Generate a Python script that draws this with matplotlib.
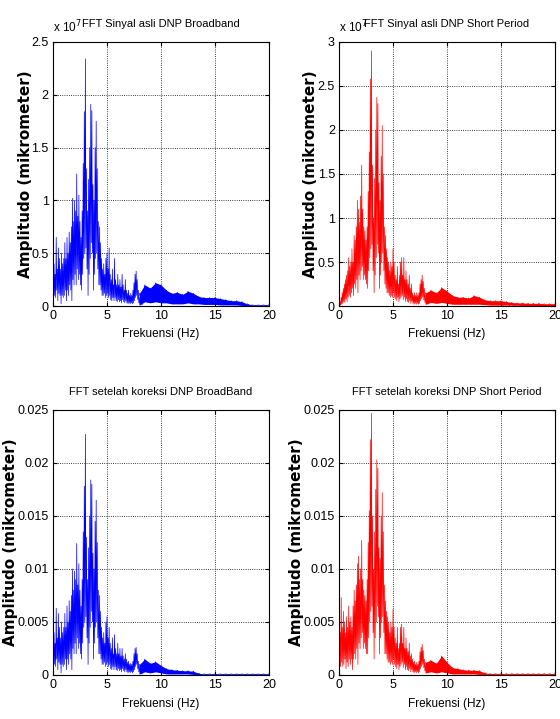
import matplotlib
matplotlib.use("Agg")
import matplotlib.pyplot as plt
import numpy as np

plt.rcParams['font.family'] = ['Liberation Sans', 'DejaVu Sans']

# frequency grids (Hz)
freq_lo = np.round(np.arange(0, 8.01, 0.1), 2)      # dense part 0-8 Hz
freq_tail = np.arange(8.0, 20.01, 0.5)              # tail 8-20 Hz

# ---- FFT Sinyal asli DNP Broadband (x 1e7)
bb_raw_hi = [0.25, 0.4, 0.3, 0.65, 0.35, 0.55, 0.45, 0.35, 0.5, 0.4,
             0.45, 0.6, 0.45, 0.65, 0.5, 0.7, 0.6, 0.75, 1.02, 0.8,
             1.0, 0.9, 1.25, 0.85, 1.05, 0.8, 0.65, 0.9, 1.35, 1.84,
             2.34, 1.3, 0.9, 1.2, 1.5, 1.91, 1.85, 1.15, 1.0, 1.5,
             1.75, 1.3, 0.8, 0.75, 0.6, 0.45, 0.35, 0.4, 0.3, 0.45,
             0.5, 0.35, 0.55, 0.3, 0.25, 0.35, 0.2, 0.45, 0.25, 0.2,
             0.3, 0.2, 0.25, 0.18, 0.3, 0.2, 0.15, 0.25, 0.15, 0.12,
             0.15, 0.1, 0.12, 0.1, 0.15, 0.22, 0.3, 0.33, 0.25, 0.15,
             0.08]
bb_raw_lo = [0.05, 0.1, 0.08, 0.15, 0.05, 0.12, 0.1, 0.02, 0.1, 0.08,
             0.1, 0.15, 0.05, 0.15, 0.1, 0.2, 0.15, 0.05, 0.25, 0.2,
             0.3, 0.2, 0.35, 0.25, 0.3, 0.2, 0.15, 0.3, 0.45, 0.5,
             0.55, 0.35, 0.1, 0.3, 0.45, 0.6, 0.5, 0.15, 0.3, 0.45,
             0.5, 0.35, 0.2, 0.2, 0.15, 0.1, 0.1, 0.12, 0.08, 0.1,
             0.12, 0.08, 0.1, 0.06, 0.05, 0.08, 0.05, 0.08, 0.05, 0.04,
             0.06, 0.04, 0.05, 0.03, 0.06, 0.04, 0.03, 0.05, 0.03, 0.02,
             0.03, 0.02, 0.03, 0.02, 0.03, 0.05, 0.08, 0.1, 0.06, 0.03,
             0.01]
bb_raw_tail_hi = [0.12, 0.2, 0.17, 0.22, 0.2, 0.15, 0.12, 0.13, 0.11, 0.14,
                  0.12, 0.09, 0.08, 0.08, 0.08, 0.07, 0.06, 0.05, 0.05, 0.04,
                  0.02, 0.01, 0.01, 0.01, 0.01]
bb_raw_tail_lo = [0.01, 0.04, 0.03, 0.04, 0.03, 0.03, 0.02, 0.02, 0.02, 0.03,
                  0.02, 0.02, 0.015, 0.015, 0.015, 0.01, 0.01, 0.01, 0.01, 0.005,
                  0.003, 0.002, 0.002, 0.002, 0.002]

# ---- FFT Sinyal asli DNP Short Period (x 1e7)
sp_raw_hi = [0.02, 0.05, 0.1, 0.15, 0.2, 0.25, 0.3, 0.35, 0.4, 0.55,
             0.45, 0.5, 0.65, 0.5, 0.8, 0.75, 0.9, 1.2, 1.1, 0.95,
             1.25, 1.6, 1.1, 0.9, 0.85, 0.75, 0.9, 1.3, 1.75, 2.58,
             2.9, 1.6, 1.0, 1.45, 2.0, 2.37, 2.3, 1.4, 1.2, 1.7,
             2.05, 1.5, 0.9, 0.8, 0.65, 0.55, 0.5, 0.4, 0.5, 0.45,
             0.65, 0.5, 0.35, 0.3, 0.45, 0.25, 0.35, 0.5, 0.55, 0.35,
             0.55, 0.3, 0.4, 0.3, 0.25, 0.35, 0.2, 0.25, 0.15, 0.12,
             0.15, 0.12, 0.15, 0.12, 0.15, 0.25, 0.3, 0.35, 0.28, 0.2,
             0.12]
sp_raw_lo = [0.0, 0.01, 0.02, 0.03, 0.05, 0.04, 0.08, 0.05, 0.1, 0.12,
             0.1, 0.15, 0.2, 0.12, 0.25, 0.2, 0.3, 0.15, 0.35, 0.3,
             0.4, 0.45, 0.3, 0.35, 0.3, 0.25, 0.2, 0.4, 0.55, 0.65,
             0.7, 0.4, 0.15, 0.35, 0.55, 0.7, 0.6, 0.2, 0.35, 0.5,
             0.6, 0.4, 0.25, 0.2, 0.15, 0.15, 0.12, 0.1, 0.12, 0.1,
             0.15, 0.1, 0.08, 0.06, 0.1, 0.05, 0.08, 0.1, 0.12, 0.07,
             0.1, 0.05, 0.08, 0.05, 0.04, 0.06, 0.03, 0.05, 0.03, 0.02,
             0.03, 0.02, 0.03, 0.02, 0.03, 0.06, 0.08, 0.1, 0.07, 0.04,
             0.02]
sp_raw_tail_hi = [0.15, 0.18, 0.15, 0.21, 0.17, 0.12, 0.1, 0.1, 0.09, 0.12,
                  0.1, 0.07, 0.06, 0.06, 0.06, 0.05, 0.04, 0.035, 0.035, 0.03,
                  0.03, 0.03, 0.025, 0.025, 0.025]
sp_raw_tail_lo = [0.02, 0.04, 0.03, 0.04, 0.03, 0.02, 0.02, 0.02, 0.02, 0.02,
                  0.02, 0.015, 0.01, 0.01, 0.01, 0.01, 0.008, 0.008, 0.006, 0.006,
                  0.005, 0.005, 0.005, 0.005, 0.005]

# ---- FFT setelah koreksi DNP BroadBand (x 1e-3)
bb_cor_hi = [2.5, 4.0, 3.0, 6.3, 3.5, 5.8, 4.5, 3.5, 5.0, 4.0,
             4.5, 5.8, 4.5, 6.5, 5.0, 7.0, 6.0, 7.5, 10.0, 8.0,
             9.8, 9.0, 12.4, 8.5, 10.5, 8.0, 6.5, 9.0, 13.5, 17.8,
             22.7, 13.0, 9.0, 12.0, 15.0, 18.4, 18.0, 11.5, 10.0, 14.5,
             16.5, 12.5, 8.0, 7.5, 6.0, 4.5, 3.5, 4.0, 3.0, 5.0,
             5.5, 3.5, 4.5, 3.0, 2.5, 3.5, 2.0, 3.8, 2.5, 2.0,
             3.0, 2.0, 2.5, 1.8, 2.5, 1.8, 1.5, 2.0, 1.5, 1.2,
             1.3, 1.0, 1.1, 1.0, 1.3, 2.0, 2.5, 2.6, 2.0, 1.3,
             0.8]
bb_cor_lo = [0.5, 1.0, 0.8, 1.5, 0.5, 1.2, 1.0, 0.2, 1.0, 0.8,
             1.0, 1.5, 0.5, 1.5, 1.0, 2.0, 1.5, 0.5, 2.5, 2.0,
             3.0, 2.0, 3.5, 2.5, 3.0, 2.0, 1.5, 3.0, 4.5, 5.0,
             5.5, 3.5, 1.0, 3.0, 4.5, 6.0, 5.0, 1.5, 3.0, 4.5,
             5.0, 3.5, 2.0, 2.0, 1.5, 1.0, 1.0, 1.2, 0.8, 1.0,
             1.2, 0.8, 1.0, 0.6, 0.5, 0.8, 0.5, 0.8, 0.5, 0.4,
             0.6, 0.4, 0.5, 0.3, 0.6, 0.4, 0.3, 0.5, 0.3, 0.2,
             0.3, 0.2, 0.3, 0.2, 0.3, 0.5, 0.8, 1.0, 0.6, 0.3,
             0.1]
bb_cor_tail_hi = [1.0, 1.5, 1.1, 1.25, 0.9, 0.6, 0.5, 0.45, 0.4, 0.4,
                  0.35, 0.15, 0.1, 0.1, 0.1, 0.1, 0.1, 0.1, 0.1, 0.1,
                  0.1, 0.1, 0.1, 0.1, 0.1]
bb_cor_tail_lo = [0.1, 0.3, 0.2, 0.3, 0.2, 0.1, 0.1, 0.1, 0.1, 0.1,
                  0.05, 0.02, 0.02, 0.02, 0.02, 0.02, 0.02, 0.02, 0.02, 0.02,
                  0.02, 0.02, 0.02, 0.02, 0.02]

# ---- FFT setelah koreksi DNP Short Period (x 1e-3)
sp_cor_hi = [2.5, 4.0, 7.3, 4.5, 6.0, 5.0, 4.0, 5.5, 4.5, 6.5,
             5.0, 5.5, 4.5, 6.5, 8.0, 7.0, 8.5, 10.5, 11.2, 9.0,
             10.0, 12.7, 9.0, 8.0, 7.5, 7.0, 9.0, 12.5, 15.5, 22.2,
             24.7, 15.0, 10.0, 13.5, 17.5, 20.3, 19.5, 12.0, 11.0, 15.0,
             17.2, 13.5, 8.5, 7.0, 6.0, 5.5, 5.0, 4.0, 5.0, 4.5,
             6.2, 4.5, 3.5, 3.0, 4.5, 2.5, 3.0, 4.5, 4.8, 3.0,
             4.5, 2.5, 3.5, 2.5, 2.2, 3.0, 1.8, 2.0, 1.5, 1.2,
             1.3, 1.0, 1.2, 1.0, 1.3, 2.2, 2.6, 2.9, 2.3, 1.5,
             1.0]
sp_cor_lo = [0.3, 0.8, 1.2, 0.8, 1.0, 1.5, 0.6, 1.2, 0.8, 1.5,
             1.0, 1.5, 0.5, 1.5, 2.0, 1.5, 2.5, 1.0, 3.0, 2.5,
             3.5, 4.0, 2.5, 3.0, 2.5, 2.0, 2.0, 3.5, 5.0, 6.0,
             6.5, 4.0, 1.5, 3.5, 5.0, 6.5, 5.5, 2.0, 3.5, 5.0,
             5.5, 4.0, 2.0, 2.0, 1.5, 1.2, 1.2, 1.0, 1.2, 1.0,
             1.5, 1.0, 0.8, 0.6, 1.0, 0.5, 0.8, 1.0, 1.2, 0.7,
             1.0, 0.5, 0.8, 0.5, 0.4, 0.6, 0.3, 0.5, 0.3, 0.2,
             0.3, 0.2, 0.3, 0.2, 0.3, 0.6, 0.8, 1.0, 0.7, 0.4,
             0.2]
sp_cor_tail_hi = [1.2, 1.4, 1.1, 1.8, 1.2, 0.7, 0.6, 0.5, 0.45, 0.45,
                  0.4, 0.2, 0.12, 0.12, 0.12, 0.12, 0.12, 0.12, 0.12, 0.12,
                  0.12, 0.12, 0.12, 0.12, 0.12]
sp_cor_tail_lo = [0.2, 0.3, 0.2, 0.3, 0.2, 0.1, 0.1, 0.1, 0.1, 0.1,
                  0.05, 0.03, 0.03, 0.03, 0.03, 0.03, 0.03, 0.03, 0.03, 0.03,
                  0.03, 0.03, 0.03, 0.03, 0.03]

titles = ["FFT Sinyal asli DNP Broadband", "FFT Sinyal asli DNP Short Period",
          "FFT setelah koreksi DNP BroadBand", "FFT setelah koreksi DNP Short Period"]
ytick_top = [0, 0.5, 1, 1.5, 2, 2.5]
ytick_top_sp = [0, 0.5, 1, 1.5, 2, 2.5, 3]
ytick_bot = [0, 0.005, 0.01, 0.015, 0.02, 0.025]


def spectrum(ax, hi, lo, thi, tlo, scale, color):
    hi = np.array(hi) * scale
    lo = np.array(lo) * scale
    thi = np.array(thi) * scale
    tlo = np.array(tlo) * scale
    # zigzag between peak and trough of each bin
    x = np.column_stack([freq_lo, freq_lo + 0.05]).ravel()
    y = np.column_stack([hi, lo]).ravel()
    ax.plot(x, y, color=color, lw=0.5)
    ax.fill_between(freq_tail, tlo, thi, color=color, lw=0)
    xt = np.column_stack([freq_tail, freq_tail + 0.25]).ravel()
    yt = np.column_stack([thi, tlo]).ravel()
    ax.plot(xt, yt, color=color, lw=0.5)


def style(ax, yticks, ylabs, ylim, title, ylab_x):
    ax.set_xlim(0, 20)
    ax.set_ylim(0, ylim)
    ax.set_xticks([0, 5, 10, 15, 20])
    ax.set_yticks(yticks)
    ax.set_yticklabels(ylabs)
    ax.tick_params(direction='in', top=True, right=True, length=3, labelsize=9, pad=3)
    ax.grid(True, color='black', linestyle=':', lw=0.6)
    for s in ax.spines.values():
        s.set_linewidth(0.8)
    ax.set_title(title, fontsize=8, pad=11)
    ax.set_xlabel("Frekuensi (Hz)", fontsize=8.5)
    ax.xaxis.set_label_coords(0.5, -0.085)
    ax.set_ylabel("Amplitudo (mikrometer)", fontsize=11, family='DejaVu Sans', fontweight='bold')
    ax.yaxis.set_label_coords(ylab_x, 0.5)


fig = plt.figure(figsize=(5.6, 7.19), dpi=100)
ax1 = fig.add_axes([0.0946, 0.5744, 0.3857, 0.3672])
ax2 = fig.add_axes([0.6054, 0.5744, 0.3857, 0.3672])
ax3 = fig.add_axes([0.0946, 0.0612, 0.3857, 0.3686])
ax4 = fig.add_axes([0.6054, 0.0612, 0.3857, 0.3686])

spectrum(ax1, bb_raw_hi, bb_raw_lo, bb_raw_tail_hi, bb_raw_tail_lo, 1, 'blue')
spectrum(ax2, sp_raw_hi, sp_raw_lo, sp_raw_tail_hi, sp_raw_tail_lo, 1, 'red')
spectrum(ax3, bb_cor_hi, bb_cor_lo, bb_cor_tail_hi, bb_cor_tail_lo, 1e-3, 'blue')
spectrum(ax4, sp_cor_hi, sp_cor_lo, sp_cor_tail_hi, sp_cor_tail_lo, 1e-3, 'red')

style(ax1, ytick_top, ['0', '0.5', '1', '1.5', '2', '2.5'], 2.5, titles[0], -0.093)
style(ax2, ytick_top_sp, ['0', '0.5', '1', '1.5', '2', '2.5', '3'], 3, titles[1], -0.097)
style(ax3, ytick_bot, ['0', '0.005', '0.01', '0.015', '0.02', '0.025'], 0.025, titles[2], -0.16)
style(ax4, ytick_bot, ['0', '0.005', '0.01', '0.015', '0.02', '0.025'], 0.025, titles[3], -0.16)

# MATLAB-style exponent labels
ax1.text(0.0, 1.025, r'x 10$^{7}$', transform=ax1.transAxes, fontsize=8.5, va='bottom', ha='left')
ax2.text(0.0, 1.025, r'x 10$^{7}$', transform=ax2.transAxes, fontsize=8.5, va='bottom', ha='left')

fig.savefig("out.png", dpi=100)
